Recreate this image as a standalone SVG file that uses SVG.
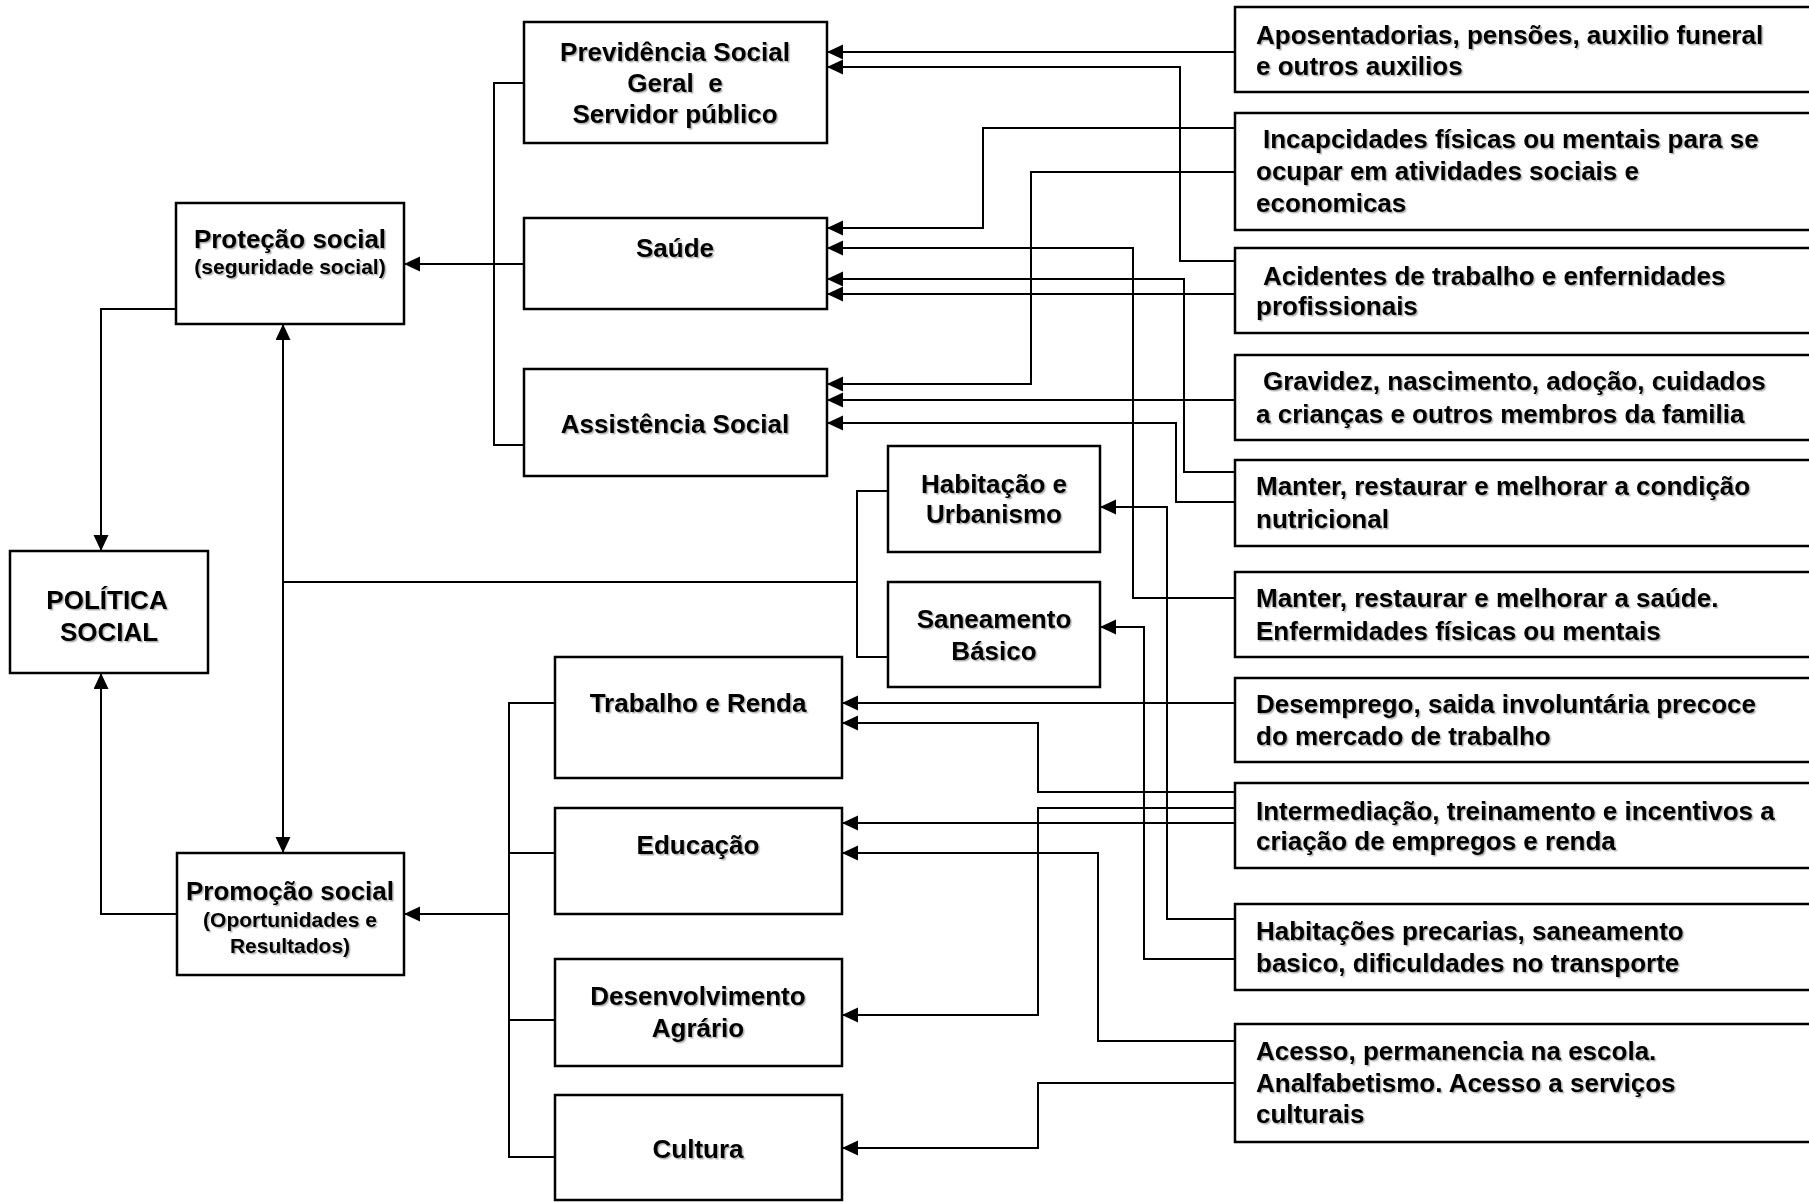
<svg xmlns="http://www.w3.org/2000/svg" width="1809" height="1202" viewBox="0 0 1809 1202">
<defs>
<style>
.box{fill:#fff;stroke:#000;stroke-width:2.5}
.t{font-family:"Liberation Sans",Arial,sans-serif;font-weight:bold;font-size:26px;fill:#000;filter:url(#sh)}
.c{text-anchor:middle}
.s{font-size:21px}
.ln{fill:none;stroke:#000;stroke-width:2}
.ar{marker-end:url(#ah)}
</style>
<filter id="sh" x="-5%" y="-30%" width="110%" height="160%">
<feDropShadow dx="1.5" dy="1.5" stdDeviation="0.6" flood-color="#000" flood-opacity="0.3"/>
</filter>
<marker id="ah" markerUnits="userSpaceOnUse" markerWidth="17" markerHeight="16" refX="16" refY="7.5" orient="auto">
<path d="M0,0 L16,7.5 L0,15 z" fill="#000"/>
</marker>
</defs>
<rect width="1809" height="1202" fill="#fff"/>

<g id="connectors">
<path class="ln" d="M524,83 H494 V445 H524"/>
<path class="ln ar" d="M524,264 H404"/>
<path class="ln" d="M555,703 H509 V1157 H555 M509,853 H555 M509,1020 H555"/>
<path class="ln ar" d="M509,914 H404"/>
<path class="ln" d="M888,491 H857 V657 H888 M857,582 H283"/>
<path class="ln ar" d="M283,582 V324"/>
<path class="ln ar" d="M283,582 V853"/>
<path class="ln ar" d="M176,309 H101 V551"/>
<path class="ln ar" d="M177,914 H101 V673"/>
<path class="ln ar" d="M1235,52 H827"/>
<path class="ln ar" d="M1235,261 H1180 V67 H827"/>
<path class="ln ar" d="M1235,128 H983 V228 H827"/>
<path class="ln ar" d="M1235,598 H1133 V248 H827"/>
<path class="ln ar" d="M1235,472 H1184 V279 H827"/>
<path class="ln ar" d="M1235,294 H827"/>
<path class="ln ar" d="M1235,172 H1031 V384 H827"/>
<path class="ln ar" d="M1235,400 H827"/>
<path class="ln ar" d="M1235,502 H1176 V423 H827"/>
<path class="ln ar" d="M1235,919 H1167 V507 H1100"/>
<path class="ln ar" d="M1235,959 H1144 V627 H1100"/>
<path class="ln ar" d="M1235,703 H842"/>
<path class="ln ar" d="M1235,792 H1038 V723 H842"/>
<path class="ln ar" d="M1235,808 H1038 V1015 H842"/>
<path class="ln ar" d="M1235,823 H842"/>
<path class="ln ar" d="M1235,1041 H1098 V853 H842"/>
<path class="ln ar" d="M1235,1083 H1038 V1148 H842"/>
</g>

<g id="politica-social">
<rect class="box" x="10" y="551" width="198" height="122"/>
<text class="t c" x="107" y="609">POLÍTICA</text>
<text class="t c" x="109" y="641">SOCIAL</text>
</g>

<g id="protecao-social">
<rect class="box" x="176" y="203" width="228" height="121"/>
<text class="t c" x="290" y="248">Proteção social</text>
<text class="t c s" x="290" y="274">(seguridade social)</text>
</g>

<g id="promocao-social">
<rect class="box" x="177" y="853" width="227" height="122"/>
<text class="t c" x="290" y="900">Promoção social</text>
<text class="t c s" x="290" y="927">(Oportunidades e</text>
<text class="t c s" x="290" y="953">Resultados)</text>
</g>

<g id="previdencia">
<rect class="box" x="524" y="22" width="303" height="121"/>
<text class="t c" x="675" y="61">Previdência Social</text>
<text class="t c" x="675" y="92" xml:space="preserve">Geral  e</text>
<text class="t c" x="675" y="123">Servidor público</text>
</g>

<g id="saude">
<rect class="box" x="524" y="218" width="303" height="91"/>
<text class="t c" x="675" y="257">Saúde</text>
</g>

<g id="assistencia">
<rect class="box" x="524" y="369" width="303" height="107"/>
<text class="t c" x="675" y="433">Assistência Social</text>
</g>

<g id="habitacao">
<rect class="box" x="888" y="446" width="212" height="106"/>
<text class="t c" x="994" y="493">Habitação e</text>
<text class="t c" x="994" y="523">Urbanismo</text>
</g>

<g id="saneamento">
<rect class="box" x="888" y="582" width="212" height="105"/>
<text class="t c" x="994" y="628">Saneamento</text>
<text class="t c" x="994" y="660">Básico</text>
</g>

<g id="trabalho">
<rect class="box" x="555" y="657" width="287" height="121"/>
<text class="t c" x="698" y="712">Trabalho e Renda</text>
</g>

<g id="educacao">
<rect class="box" x="555" y="808" width="287" height="106"/>
<text class="t c" x="698" y="854">Educação</text>
</g>

<g id="desenvolvimento">
<rect class="box" x="555" y="959" width="287" height="107"/>
<text class="t c" x="698" y="1005">Desenvolvimento</text>
<text class="t c" x="698" y="1037">Agrário</text>
</g>

<g id="cultura">
<rect class="box" x="555" y="1095" width="287" height="105"/>
<text class="t c" x="698" y="1158">Cultura</text>
</g>

<g id="aposentadorias">
<rect class="box" x="1235" y="7" width="600" height="85"/>
<text class="t" x="1256" y="44">Aposentadorias, pensões, auxilio funeral</text>
<text class="t" x="1256" y="75">e outros auxilios</text>
</g>

<g id="incapacidades">
<rect class="box" x="1235" y="113" width="600" height="117"/>
<text class="t" x="1263" y="148">Incapcidades físicas ou mentais para se</text>
<text class="t" x="1256" y="180">ocupar em atividades sociais e</text>
<text class="t" x="1256" y="212">economicas</text>
</g>

<g id="acidentes">
<rect class="box" x="1235" y="248" width="600" height="85"/>
<text class="t" x="1263" y="285">Acidentes de trabalho e enfernidades</text>
<text class="t" x="1256" y="315">profissionais</text>
</g>

<g id="gravidez">
<rect class="box" x="1235" y="355" width="600" height="85"/>
<text class="t" x="1263" y="390">Gravidez, nascimento, adoção, cuidados</text>
<text class="t" x="1256" y="423">a crianças e outros membros da familia</text>
</g>

<g id="nutricional">
<rect class="box" x="1235" y="460" width="600" height="86"/>
<text class="t" x="1256" y="495">Manter, restaurar e melhorar a condição</text>
<text class="t" x="1256" y="528">nutricional</text>
</g>

<g id="manter-saude">
<rect class="box" x="1235" y="572" width="600" height="85"/>
<text class="t" x="1256" y="607">Manter, restaurar e melhorar a saúde.</text>
<text class="t" x="1256" y="640">Enfermidades físicas ou mentais</text>
</g>

<g id="desemprego">
<rect class="box" x="1235" y="678" width="600" height="84"/>
<text class="t" x="1256" y="713">Desemprego, saida involuntária precoce</text>
<text class="t" x="1256" y="745">do mercado de trabalho</text>
</g>

<g id="intermediacao">
<rect class="box" x="1235" y="783" width="600" height="85"/>
<text class="t" x="1256" y="820">Intermediação, treinamento e incentivos a</text>
<text class="t" x="1256" y="850">criação de empregos e renda</text>
</g>

<g id="habitacoes">
<rect class="box" x="1235" y="904" width="600" height="86"/>
<text class="t" x="1256" y="940">Habitações precarias, saneamento</text>
<text class="t" x="1256" y="972">basico, dificuldades no transporte</text>
</g>

<g id="acesso">
<rect class="box" x="1235" y="1024" width="600" height="118"/>
<text class="t" x="1256" y="1060">Acesso, permanencia na escola.</text>
<text class="t" x="1256" y="1092">Analfabetismo. Acesso a serviços</text>
<text class="t" x="1256" y="1123">culturais</text>
</g>
</svg>
